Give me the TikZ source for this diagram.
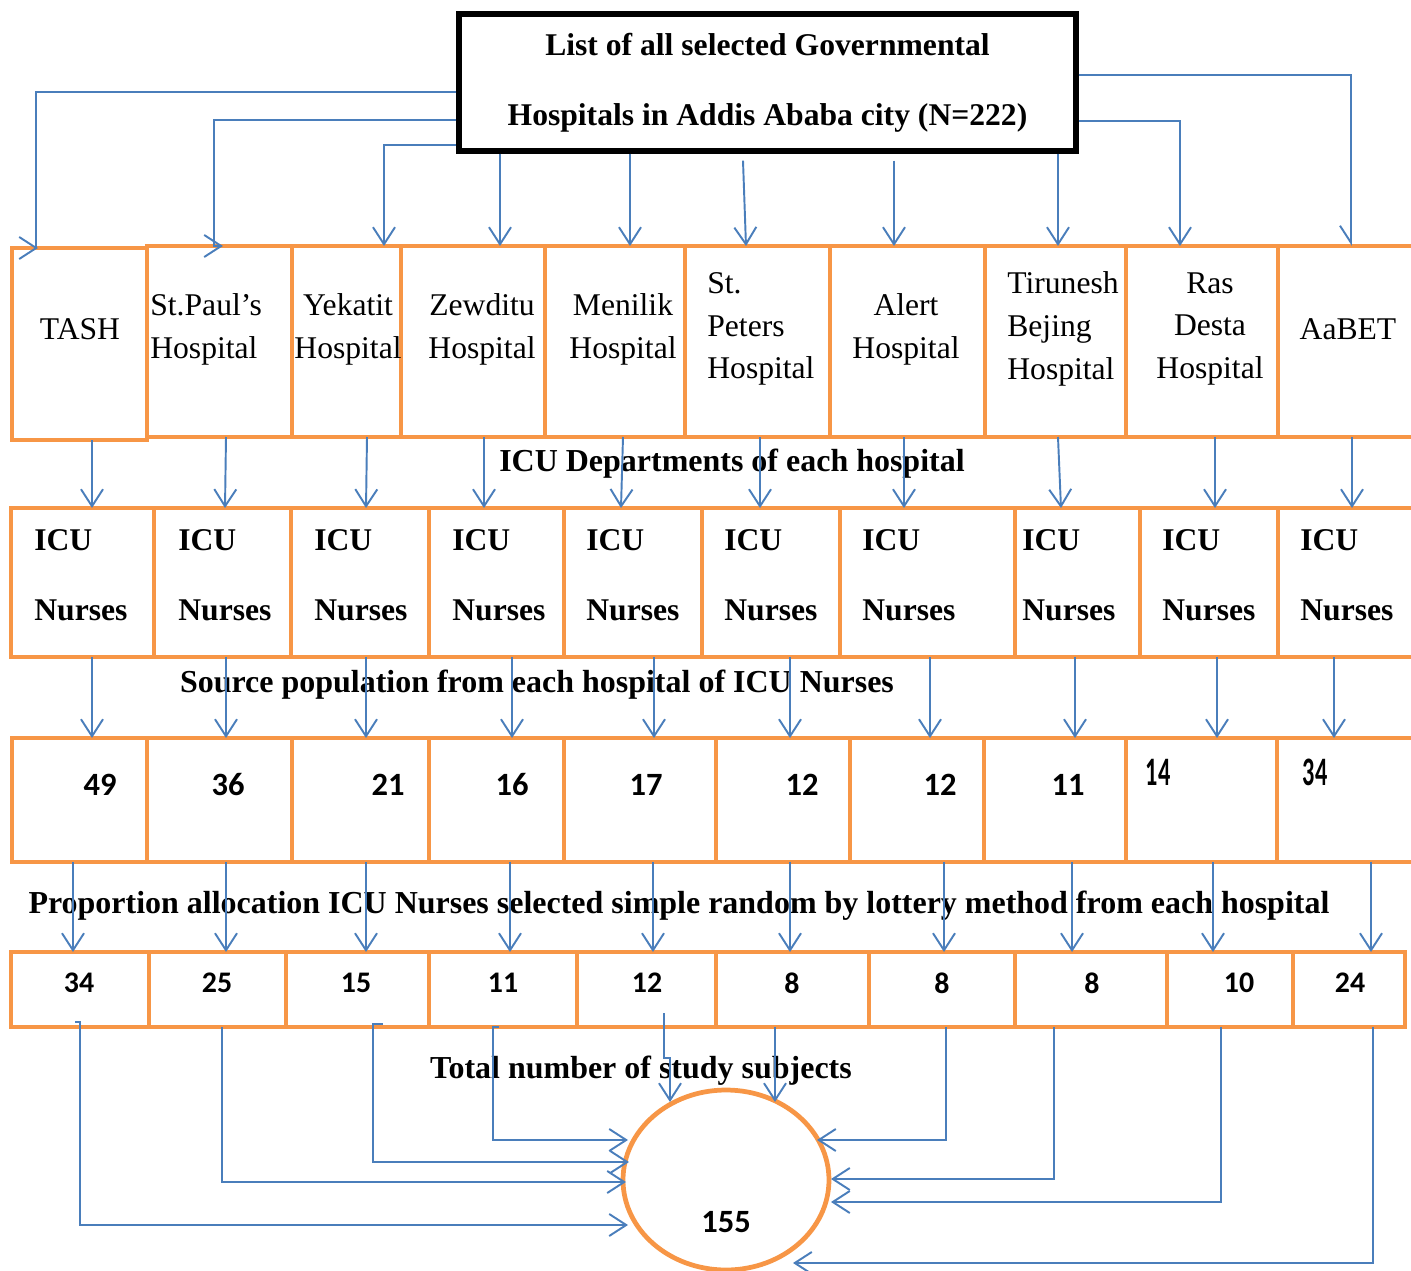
\documentclass[tikz,border=0pt]{standalone}
\usepackage{fontspec}
\setmainfont{Liberation Serif}
\newfontfamily\numfont{Carlito}
\newfontfamily\condfont{Carlito}[FakeStretch=0.6]
\usepackage{tikz}
\usetikzlibrary{arrows.meta, shapes.geometric}
\definecolor{boxorange}{HTML}{F79646}
\definecolor{linkblue}{HTML}{4A7EBB}
\tikzstyle{cell} = [%
					draw = boxorange,
					line width = 2.7pt,
					inner sep = 0pt,
					outer sep = 0pt
					]
\tikzstyle{link} = [%
					draw = linkblue,
					line width = 1.1pt
					]
\tikzstyle{feed} = [%
					link,
					-{Straight Barb[length=0.34cm, width=0.44cm]}
					]
\tikzstyle{hosptext} = [inner sep = 0pt, font = \fontsize{18}{24.4}\selectfont]
\tikzstyle{nursetext} = [inner sep = 0pt, align = left, anchor = west, font = \fontsize{18}{39.7}\selectfont\bfseries]
\tikzstyle{steptext} = [inner sep = 0pt, font = \fontsize{18.2}{22}\selectfont\bfseries]
\tikzstyle{popnum} = [inner sep = 0pt, font = \fontsize{18.5}{22}\selectfont\numfont\bfseries]
\tikzstyle{samplenum} = [inner sep = 0pt, font = \fontsize{17}{20}\selectfont\numfont\bfseries]

\begin{document}
\begin{tikzpicture}[x=0.02cm, y=-0.02cm]
		\useasboundingbox (0,0) rectangle (1411,1271);
		
		% Title
		\node[draw, line width=3pt, inner sep=0pt, minimum width=12.34cm, minimum height=2.74cm, align=center, font=\fontsize{18}{40}\selectfont\bfseries] (title) at (767.5,82.5) {List of all selected Governmental\\Hospitals in Addis Ababa city (N=222)};
		
		% Boxes
		%% Hospitals
		\foreach \i/\xa/\xb/\ya/\yb in {1/12/147/248/440, 2/147/292/246/437, 3/292/401/246/437, 4/401/545/246/437, 5/545/685/246/437, 6/685/830/246/437, 7/830/985/246/437, 8/985/1126/246/437, 9/1126/1278/246/437, 10/1278/1430/246/437}
			\node[cell, minimum width={(\xb-\xa)*0.02cm}, minimum height={(\yb-\ya)*0.02cm}] (h\i) at ({(\xa+\xb)/2},{(\ya+\yb)/2}) {};
		%% ICU nurses
		\foreach \i/\xa/\xb in {1/11/154, 2/154/291, 3/291/429, 4/429/564, 5/564/702, 6/702/840, 7/840/1015, 8/1015/1140, 9/1140/1278, 10/1278/1430}
			\node[cell, minimum width={(\xb-\xa)*0.02cm}, minimum height=2.98cm] (n\i) at ({(\xa+\xb)/2},582.5) {};
		%% Source population
		\foreach \i/\xa/\xb in {1/12/147, 2/147/292, 3/292/429, 4/429/564, 5/564/716, 6/716/850, 7/850/984, 8/984/1126, 9/1126/1277, 10/1277/1430}
			\node[cell, minimum width={(\xb-\xa)*0.02cm}, minimum height=2.48cm] (s\i) at ({(\xa+\xb)/2},800) {};
		%% Proportion allocation
		\foreach \i/\xa/\xb in {1/11/149, 2/149/286, 3/286/429, 4/429/577, 5/577/716, 6/716/869, 7/869/1015, 8/1015/1167, 9/1167/1293, 10/1293/1405}
			\node[cell, minimum width={(\xb-\xa)*0.02cm}, minimum height=1.5cm] (p\i) at ({(\xa+\xb)/2},989.5) {};
		%% Total
		\node[cell, ellipse, minimum width=4.12cm, minimum height=3.6cm] (total) at (726,1180) {};
		
		% Texts
		\foreach \i/\x/\txt in {1/80/TASH, 3/348/{Yekatit\\Hospital}, 4/482/{Zewditu\\Hospital}, 5/623/{Menilik\\Hospital}, 7/906/{Alert\\Hospital}, 9/1210/{Ras\\Desta\\Hospital}, 10/1348/AaBET}
			\node[hosptext, align=center] (ht\i) at (\x,329) {\txt};
		\foreach \i/\x/\txt in {2/150/{St.Paul’s\\Hospital}, 6/707/{St.\\Peters\\Hospital}, 8/1007/{Tirunesh\\Bejing\\Hospital}}
			\node[hosptext, align=left, anchor=west] (ht\i) at (\x,329) {\txt};
		\foreach \i/\x in {1/34, 2/178, 3/314, 4/452, 5/586, 6/724, 7/862, 8/1022, 9/1162, 10/1300}
			\node[nursetext] (nt\i) at (\x,575) {ICU\\Nurses};
		\foreach \i/\x/\v in {1/100/49, 2/228/36, 3/388/21, 4/512/16, 5/646/17, 6/802/12, 7/940/12, 8/1068/11}
			\node[popnum] (st\i) at (\x,785) {\v};
		\node[popnum, font=\fontsize{23}{26}\selectfont\condfont\bfseries] (st9) at (1158,772) {14};
		\node[popnum, font=\fontsize{23}{26}\selectfont\condfont\bfseries] (st10) at (1315,772) {34};
		\foreach \i/\x/\v in {1/79/34, 2/217/25, 3/356/15, 4/503/11, 5/647/12, 6/792/8, 7/942/8, 8/1092/8, 9/1239/10, 10/1350/24}
			\node[samplenum] (pt\i) at (\x,983) {\v};
		\node[popnum] (tt) at (726,1222) {155};
		
		\node[steptext] (dept) at (732,464) {ICU Departments of each hospital};
		\node[steptext] (source) at (537,685) {Source population from each hospital of ICU Nurses};
		\node[steptext] (alloc) at (679,906) {Proportion allocation ICU Nurses selected simple random by lottery method from each hospital};
		\node[steptext] (subj) at (641,1071) {Total number of study subjects};
		
		% Arrows
		%% Title to hospitals
		\draw[feed] (title.west |- 0,92) -| (h1.north -| 36,0) -- ++(2,0);
		\draw[feed] (title.west |- 0,120) -| (h2.north -| 214,0) -- ++(9,0);
		\draw[feed] (title.west |- 0,145) -| (h3.north -| 384,0);
		\draw[feed] (title.south -| 500,0) -- (h4.north -| 500,0);
		\draw[feed] (title.south -| 630,0) -- (h5.north -| 630,0);
		\draw[feed] (title.south -| 743,0) ++(0,7) -- (h6.north -| 746,0);
		\draw[feed] (title.south -| 894,0) ++(0,7) -- (h7.north -| 894,0);
		\draw[feed] (title.south -| 1058,0) -- (h8.north -| 1058,0);
		\draw[feed] (title.east |- 0,121) -| (h9.north -| 1180,0);
		\draw[link, -{Straight Barb[length=0.34cm, width=0.44cm, right]}] (title.east |- 0,75) -| (h10.north -| 1351,0);
		%% Hospitals to ICU nurses
		\foreach \i/\xa/\xb in {1/92/92, 2/226/225, 3/367/366, 4/484/484, 5/623/621, 6/760/760, 7/904/904, 8/1058/1061, 9/1215/1215, 10/1352/1352}
			\draw[feed] (h\i.south -| \xa,0) -- (n\i.north -| \xb,0);
		%% ICU nurses to source population
		\foreach \i/\x in {1/92, 2/226, 3/366, 4/512, 5/654, 6/790, 7/930, 8/1075, 9/1217, 10/1334}
			\draw[feed] (n\i.south -| \x,0) -- (s\i.north -| \x,0);
		%% Source population to allocation
		\foreach \i/\x in {1/73, 2/226, 3/366, 4/510, 5/653, 6/790, 7/944, 8/1072, 9/1213, 10/1371}
			\draw[feed] (s\i.south -| \x,0) -- (p\i.north -| \x,0);
		%% Allocation to total
		\coordinate (in1) at (628,1225);
		\coordinate (in2) at (626,1182);
		\coordinate (in3) at (629,1162);
		\coordinate (in4) at (628,1140);
		\coordinate (in5) at (670,1102);
		\coordinate (in6) at (775,1102);
		\coordinate (in7) at (817,1140);
		\coordinate (in8) at (831,1179);
		\coordinate (in9) at (831,1202);
		\coordinate (in10) at (793,1263);
		\draw[feed] (p1.south -| 75,0) ++(0,-5) -- ++(5,0) |- (in1);
		\draw[feed] (p2.south -| 222,0) |- (in2);
		\draw[feed] (p3.south -| 383,0) ++(0,-3) -- ++(-10,0) |- (in3);
		\draw[feed] (p4.south -| 499,0) -- ++(-6,0) |- (in4);
		\draw[feed] (p5.south -| 664,0) ++(0,-14) -- ++(0,45) -- ++(6,0) -- (in5);
		\draw[feed] (p6.south -| 775,0) -- (in6);
		\draw[feed] (p7.south -| 946,0) |- (in7);
		\draw[feed] (p8.south -| 1054,0) |- (in8);
		\draw[feed] (p9.south -| 1221,0) |- (in9);
		\draw[feed] (p10.south -| 1373,0) |- (in10);
	\end{tikzpicture}
\end{document}
